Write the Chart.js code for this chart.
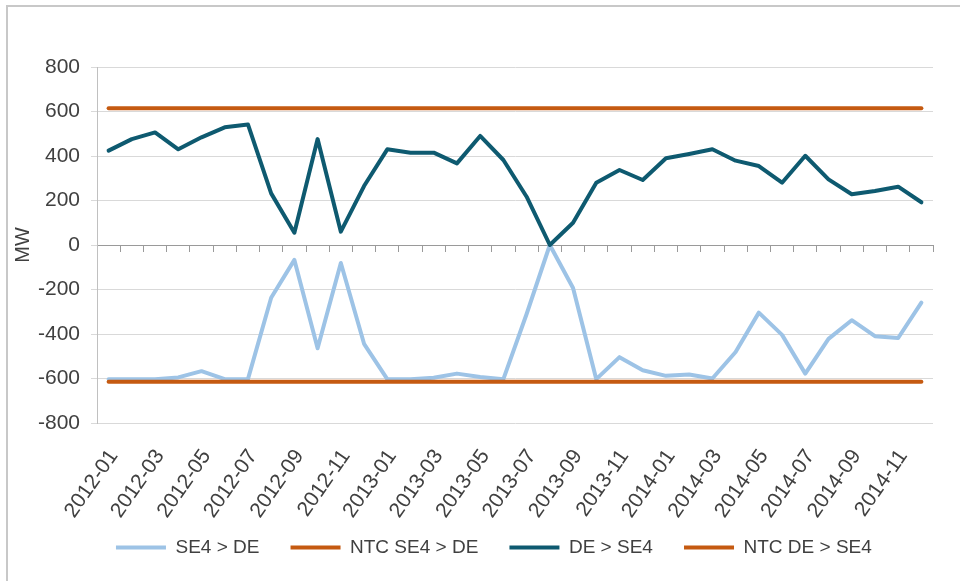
<!DOCTYPE html>
<html>
<head>
<meta charset="utf-8">
<title>SE4 - DE</title>
<script src="https://cdn.jsdelivr.net/npm/chart.js@4.4.1/dist/chart.umd.min.js"></script>
<style>
  html, body { margin: 0; padding: 0; background: #ffffff; }
  #wrap { position: relative; width: 960px; height: 581px; overflow: hidden; }
  #frame { position: absolute; left: 6px; top: 5px; width: 1000px; height: 1000px; border: 2px solid #c8c8c8; }
  #myChart { position: absolute; left: 0; top: 0; }
</style>
</head>
<body>
<div id="wrap">
  <div id="frame"></div>
  <canvas id="myChart" width="960" height="581"></canvas>
</div>
<script>
// months on the x axis
var months = [
  "2012-01", "2012-02", "2012-03", "2012-04", "2012-05", "2012-06",
  "2012-07", "2012-08", "2012-09", "2012-10", "2012-11", "2012-12",
  "2013-01", "2013-02", "2013-03", "2013-04", "2013-05", "2013-06",
  "2013-07", "2013-08", "2013-09", "2013-10", "2013-11", "2013-12",
  "2014-01", "2014-02", "2014-03", "2014-04", "2014-05", "2014-06",
  "2014-07", "2014-08", "2014-09", "2014-10", "2014-11", "2014-12"
];

// flows in MW
var se4ToDe = [
  -603, -603, -603, -595, -567, -603, -603, -237, -67, -464, -81, -444,
  -603, -603, -597, -578, -593, -603, -310, 0, -193, -603, -504, -563,
  -588, -582, -600, -481, -304, -404, -578, -422, -338, -410, -418, -259
];
var deToSe4 = [
  424, 476, 506, 430, 484, 529, 542, 232, 55, 476, 60, 265,
  430, 415, 415, 367, 490, 382, 217, 0, 100, 280, 337, 292,
  390, 409, 430, 379, 355, 280, 401, 295, 228, 243, 262, 192
];
// net transfer capacity
var ntcSe4ToDe = [
  -615, -615, -615, -615, -615, -615, -615, -615, -615, -615, -615, -615,
  -615, -615, -615, -615, -615, -615, -615, -615, -615, -615, -615, -615,
  -615, -615, -615, -615, -615, -615, -615, -615, -615, -615, -615, -615
];
var ntcDeToSe4 = [
  615, 615, 615, 615, 615, 615, 615, 615, 615, 615, 615, 615,
  615, 615, 615, 615, 615, 615, 615, 615, 615, 615, 615, 615,
  615, 615, 615, 615, 615, 615, 615, 615, 615, 615, 615, 615
];

var seriesNames = ["SE4 > DE", "NTC SE4 > DE", "DE > SE4", "NTC DE > SE4"];
var yTicks = { min: -800, max: 800, step: 200 };
var yTitle = "MW";

var textColor = "#404040";
var fontName = "'Liberation Sans', Arial, sans-serif";

function lineSet(name, values, color, order) {
  return {
    label: name,
    data: values,
    borderColor: color,
    backgroundColor: color,
    borderWidth: 4,
    pointRadius: 0,
    pointHoverRadius: 0,
    tension: 0,
    borderJoinStyle: "round",
    borderCapStyle: "round",
    order: order // later series on top, like the original
  };
}

var ctx = document.getElementById("myChart").getContext("2d");
new Chart(ctx, {
  type: "line",
  data: {
    labels: months,
    datasets: [
      lineSet(seriesNames[0], se4ToDe, "#9dc3e6", 3),
      lineSet(seriesNames[1], ntcSe4ToDe, "#c55a11", 2),
      lineSet(seriesNames[2], deToSe4, "#0e5a70", 1),
      lineSet(seriesNames[3], ntcDeToSe4, "#c55a11", 0)
    ]
  },
  options: {
    responsive: false,
    animation: false,
    events: [],
    layout: { padding: { left: 10, right: 27, top: 67, bottom: 14 } },
    scales: {
      x: {
        type: "category",
        position: "bottom",
        offset: true,
        grid: { display: false, drawTicks: false },
        border: { display: false },
        ticks: {
          autoSkip: false,
          minRotation: 55,
          maxRotation: 55,
          padding: 22,
          labelOffset: 5,
          color: textColor,
          font: { family: fontName, size: 21 },
          callback: function (value, index) {
            return index % 2 === 0 ? this.getLabelForValue(value) : "";
          }
        },
        afterFit: function (scale) {
          scale.height = 105;
          scale.paddingLeft = 0;
          scale.paddingRight = 0;
        }
      },
      // axis line with tick marks sitting on zero
      x2: {
        type: "category",
        position: { y: 0 },
        offset: true,
        grid: { offset: true, drawOnChartArea: false, drawTicks: true, tickLength: 6, color: "#9a9a9a" },
        border: { display: true, color: "#9a9a9a", width: 1 },
        ticks: { display: false }
      },
      y: {
        min: yTicks.min,
        max: yTicks.max,
        grid: { color: "#d9d9d9", tickLength: 6 },
        border: { color: "#c0c0c0" },
        ticks: {
          stepSize: yTicks.step,
          padding: 11,
          color: textColor,
          font: { family: fontName, size: 21 }
        },
        title: {
          display: true,
          text: yTitle,
          color: textColor,
          padding: 1,
          font: { family: fontName, size: 20 }
        },
        afterFit: function (scale) { scale.width = 87; }
      }
    },
    plugins: {
      tooltip: { enabled: false },
      legend: {
        position: "bottom",
        fullSize: false, // centre the row under the plot, not the canvas
        reverse: true,
        labels: {
          boxWidth: 50,
          boxHeight: 4,
          padding: 10,
          color: textColor,
          font: { family: fontName, size: 19 },
          generateLabels: function (chart) {
            var items = Chart.defaults.plugins.legend.labels.generateLabels(chart);
            items.forEach(function (it) {
              it.lineWidth = 0;
              // trailing blanks widen the gap between entries
              it.text = it.text + (it.datasetIndex === 3 ? "        " : "    ");
            });
            return items;
          }
        }
      }
    }
  }
});
</script>
</body>
</html>
